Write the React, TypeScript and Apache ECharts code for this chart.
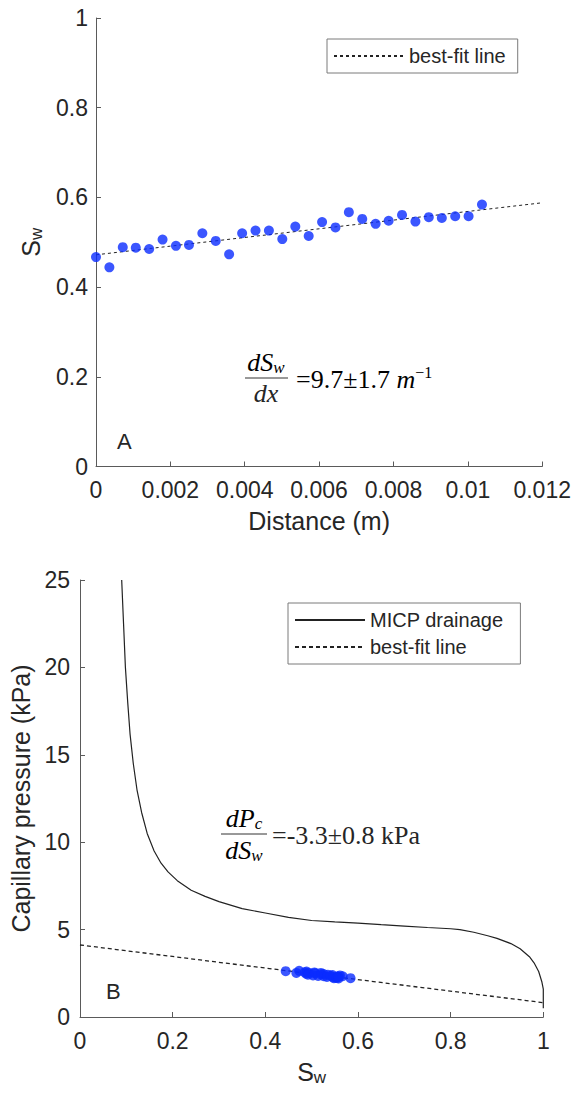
import React, { useEffect, useRef } from 'react';
import * as echarts from 'echarts';

// ---- Panel A data ----
const distance = [0, 0.00036, 0.00072, 0.00107, 0.00143, 0.00179, 0.00215, 0.0025, 0.00286, 0.00322, 0.00358, 0.00393, 0.00429, 0.00465, 0.00501, 0.00536, 0.00572, 0.00608, 0.00644, 0.0068, 0.00716, 0.00752, 0.00787, 0.00823, 0.00859, 0.00895, 0.0093, 0.00966, 0.01002, 0.01038];
const swMeasured = [0.467, 0.444, 0.489, 0.488, 0.485, 0.506, 0.492, 0.494, 0.52, 0.503, 0.473, 0.52, 0.526, 0.526, 0.507, 0.535, 0.514, 0.545, 0.533, 0.567, 0.552, 0.541, 0.548, 0.561, 0.546, 0.556, 0.554, 0.558, 0.558, 0.584];
const fitAX = [0, 0.012];
const fitAY = [0.472, 0.588];
const xTicksA = [0, 0.002, 0.004, 0.006, 0.008, 0.01, 0.012];
const yTicksA = [0, 0.2, 0.4, 0.6, 0.8, 1];

// ---- Panel B data ----
const micpSw = [0.09, 0.094, 0.098, 0.103, 0.108, 0.115, 0.123, 0.133, 0.145, 0.16, 0.175, 0.19, 0.21, 0.24, 0.27, 0.3, 0.35, 0.4, 0.45, 0.5, 0.55, 0.6, 0.65, 0.7, 0.75, 0.8, 0.82, 0.85, 0.88, 0.9, 0.93, 0.95, 0.97, 0.98, 0.99, 0.997, 1.0, 1.0];
const micpPc = [25, 22.5, 20, 18, 16.2, 14.5, 13, 11.7, 10.5, 9.5, 8.8, 8.3, 7.8, 7.25, 6.9, 6.6, 6.2, 5.95, 5.7, 5.52, 5.44, 5.37, 5.28, 5.2, 5.12, 5.05, 5.0, 4.85, 4.65, 4.5, 4.2, 3.9, 3.45, 3.1, 2.6, 2.0, 1.6, 0.5];
const pcMeasured = [2.52, 2.62, 2.6, 2.48, 2.56, 2.55, 2.42, 2.52, 2.44, 2.38, 2.64, 2.52, 2.33, 2.46, 2.5, 2.42, 2.35, 2.4, 2.29, 2.33, 2.26, 2.36, 2.22, 2.38, 2.28, 2.32, 2.24, 2.2, 2.3, 2.22];
const fitBX = [0, 1];
const fitBY = [4.12, 0.82];
const xTicksB = [0, 0.2, 0.4, 0.6, 0.8, 1];
const yTicksB = [0, 5, 10, 15, 20, 25];

const AX = '#5a5a5a';
const TXT = '#262626';
const BLUE = '#0a2cff';
const SANS = 'Liberation Sans, Arial, Helvetica, sans-serif';
const SERIF = 'Liberation Serif, Times New Roman, serif';

const fmt = (v: number) => String(+v.toFixed(4));

function axisCommon(min: number, max: number, interval: number, margin: number) {
  return {
    type: 'value' as const,
    min,
    max,
    interval,
    splitLine: { show: false },
    axisLine: { show: true, onZero: false, lineStyle: { color: AX, width: 1 } },
    axisTick: { show: true, inside: true, length: 5, lineStyle: { color: AX } },
    axisLabel: { color: TXT, fontSize: 23, fontFamily: SANS, margin, formatter: fmt },
  };
}

const subRich = {
  a: { fontSize: 25, fontFamily: SANS, color: TXT },
  b: { fontSize: 17, fontFamily: SANS, color: TXT, padding: [12, 0, 0, 0] },
};

const legendBase = {
  orient: 'vertical',
  itemWidth: 70,
  itemHeight: 14,
  borderColor: '#7a7a7a',
  borderWidth: 1,
  backgroundColor: '#fff',
  itemStyle: { opacity: 0 },
  textStyle: { fontSize: 20, fontFamily: SANS, color: TXT },
};

export default function App() {
  const ref = useRef<HTMLDivElement>(null);
  useEffect(() => {
    if (!ref.current) return;
    const chart = echarts.init(ref.current, null, { renderer: 'svg' });
    const mathI = { fontFamily: SERIF, fontStyle: 'italic', fontSize: 26, color: TXT };
    const mathSub = { fontFamily: SERIF, fontStyle: 'italic', fontSize: 17, color: TXT, padding: [11, 0, 0, 0] };
    const mathR = { fontFamily: SERIF, fontSize: 26, color: TXT };
    const mathSup = { fontFamily: SERIF, fontSize: 16, color: TXT, padding: [0, 0, 13, 0] };
    chart.setOption({
      animation: false,
      backgroundColor: '#ffffff',
      grid: [
        { left: 96, top: 18, right: 31, bottom: 630.5 },
        { left: 80, top: 580, right: 30.7, bottom: 80 },
      ],
      xAxis: [
        {
          ...axisCommon(xTicksA[0], xTicksA[xTicksA.length - 1], 0.002, 12),
          gridIndex: 0,
          name: 'Distance (m)',
          nameLocation: 'middle',
          nameGap: 42,
          nameTextStyle: { fontSize: 25, fontFamily: SANS, color: TXT },
        },
        {
          ...axisCommon(xTicksB[0], xTicksB[xTicksB.length - 1], 0.2, 12),
          gridIndex: 1,
          name: '{a|S}{b|w}',
          nameLocation: 'middle',
          nameGap: 40,
          nameTextStyle: { rich: subRich },
        },
      ],
      yAxis: [
        {
          ...axisCommon(yTicksA[0], yTicksA[yTicksA.length - 1], 0.2, 8),
          gridIndex: 0,
          name: '{a|S}{b|w}',
          nameLocation: 'middle',
          nameGap: 48,
          nameRotate: 90,
          nameTextStyle: { rich: subRich },
        },
        {
          ...axisCommon(yTicksB[0], yTicksB[yTicksB.length - 1], 5, 10),
          gridIndex: 1,
          name: 'Capillary pressure (kPa)',
          nameLocation: 'middle',
          nameGap: 46,
          nameRotate: 90,
          nameTextStyle: { fontSize: 25, fontFamily: SANS, color: TXT },
        },
      ],
      legend: [
        {
          ...legendBase,
          data: ['best-fit line'],
          left: 327,
          top: 39,
          padding: [7, 12, 7, 6],
        },
        {
          ...legendBase,
          data: ['MICP drainage', 'best-fit line B'],
          formatter: (n: string) => (n === 'best-fit line B' ? 'best-fit line' : n),
          left: 288,
          top: 603,
          itemGap: 7,
          padding: [7, 17, 7, 6],
        },
      ],
      series: [
        {
          name: 'best-fit line',
          type: 'line',
          xAxisIndex: 0,
          yAxisIndex: 0,
          data: fitAX.map((x, i) => [x, fitAY[i]]),
          symbol: 'none',
          lineStyle: { color: '#222', width: 1, type: [3, 3] },
          z: 2,
        },
        {
          name: 'Sw data',
          type: 'scatter',
          xAxisIndex: 0,
          yAxisIndex: 0,
          data: distance.map((x, i) => [x, swMeasured[i]]),
          symbol: 'circle',
          symbolSize: 10,
          itemStyle: { color: BLUE },
          z: 3,
        },
        {
          name: 'MICP drainage',
          type: 'line',
          xAxisIndex: 1,
          yAxisIndex: 1,
          data: micpSw.map((x, i) => [x, micpPc[i]]),
          symbol: 'none',
          lineStyle: { color: '#222', width: 1.2 },
          z: 2,
        },
        {
          name: 'best-fit line B',
          type: 'line',
          xAxisIndex: 1,
          yAxisIndex: 1,
          data: fitBX.map((x, i) => [x, fitBY[i]]),
          symbol: 'none',
          lineStyle: { color: '#222', width: 1.3, type: [4, 3] },
          z: 2,
        },
        {
          name: 'Pc data',
          type: 'scatter',
          xAxisIndex: 1,
          yAxisIndex: 1,
          data: swMeasured.map((x, i) => [x, pcMeasured[i]]),
          symbol: 'circle',
          symbolSize: 10,
          itemStyle: { color: BLUE },
          z: 3,
        },
      ],
      graphic: [
        { type: 'text', left: 117, top: 430, style: { text: 'A', fontSize: 22, fontFamily: SANS, fill: TXT } },
        { type: 'text', left: 106, top: 980, style: { text: 'B', fontSize: 22, fontFamily: SANS, fill: TXT } },
        // equation A
        {
          type: 'text', x: 266, y: 376,
          style: { text: '{i|dS}{s|w}', rich: { i: mathI, s: mathSub }, align: 'center', verticalAlign: 'bottom' },
        },
        { type: 'line', shape: { x1: 245, y1: 378, x2: 288, y2: 378 }, style: { stroke: '#333', lineWidth: 1 } },
        {
          type: 'text', x: 266, y: 380,
          style: { text: 'dx', font: `italic 26px ${SERIF}`, fill: TXT, align: 'center', verticalAlign: 'top' },
        },
        {
          type: 'text', x: 296, y: 379,
          style: { text: '{r|=9.7±1.7 }{i|m}{p|−1}', rich: { r: mathR, i: mathI, p: mathSup }, align: 'left', verticalAlign: 'middle' },
        },
        // equation B
        {
          type: 'text', x: 244, y: 832,
          style: { text: '{i|dP}{s|c}', rich: { i: mathI, s: mathSub }, align: 'center', verticalAlign: 'bottom' },
        },
        { type: 'line', shape: { x1: 221, y1: 834, x2: 267, y2: 834 }, style: { stroke: '#333', lineWidth: 1 } },
        {
          type: 'text', x: 244, y: 836,
          style: { text: '{i|dS}{s|w}', rich: { i: mathI, s: mathSub }, align: 'center', verticalAlign: 'top' },
        },
        {
          type: 'text', x: 272, y: 835,
          style: { text: '=-3.3±0.8 kPa', font: `26px ${SERIF}`, fill: TXT, align: 'left', verticalAlign: 'middle' },
        },
      ],
    });
    return () => chart.dispose();
  }, []);
  return <div ref={ref} style={{ position: 'absolute', left: 0, top: 0, width: 574, height: 1097, background: '#fff' }} />;
}
